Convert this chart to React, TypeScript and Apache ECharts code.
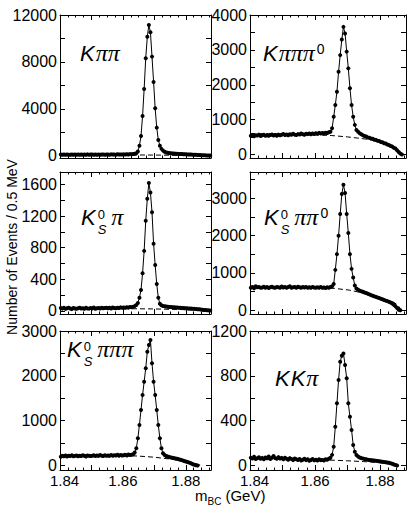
import React, { useEffect, useRef } from 'react';
import * as echarts from 'echarts';

// ---------------- data ----------------
const BIN_START = 1.84025; // GeV, centre of first 0.5 MeV bin
const BIN_WIDTH = 0.0005;

const X_LABELS = [1.84, 1.86, 1.88];
const X_MAJOR_TICKS = [1.84, 1.85, 1.86, 1.87, 1.88];
const X_MINOR_TICKS = [1.84, 1.8425, 1.845, 1.8475, 1.85, 1.8525, 1.855, 1.8575, 1.86, 1.8625, 1.865, 1.8675, 1.87, 1.8725, 1.875, 1.8775, 1.88, 1.8825, 1.885, 1.8875];

const K_PI_PI = [
  90, 80, 100, 70, 95, 85, 75, 105, 80, 90,
  70, 95, 85, 100, 75, 90, 80, 110, 85, 95,
  90, 75, 100, 85, 95, 70, 105, 90, 80, 100,
  95, 85, 110, 90, 100, 80, 115, 95, 105, 90,
  110, 100, 120, 105, 130, 115, 140, 160, 200, 350,
  850, 1680, 3390, 5690, 8310, 10150, 11150, 10530, 8450, 6290,
  4040, 2390, 1340, 850, 580, 430, 330, 270, 240, 215,
  200, 190, 175, 165, 160, 150, 140, 135, 125, 120,
  110, 105, 100, 90, 85, 75, 70, 60, 55, 45,
  40, 30, 25, 15, 10, 5,
];
const K_PI_PI_BG = [[1.84, 80], [1.85, 75], [1.86, 65], [1.87, 50], [1.88, 28], [1.885, 12], [1.888, 0]];

const K_PI_PI_PI0 = [
  540, 560, 525, 555, 545, 570, 530, 550, 565, 540,
  555, 535, 560, 575, 545, 560, 540, 570, 555, 565,
  590, 560, 575, 550, 580, 565, 595, 570, 560, 585,
  575, 600, 580, 565, 595, 585, 605, 580, 600, 590,
  610, 595, 620, 600, 615, 605, 625, 615, 640, 650,
  750, 1080, 1420, 1800, 2370, 2850, 3300, 3660, 3470, 2950,
  2470, 1900, 1420, 1080, 850, 700, 650, 610, 580, 555,
  530, 515, 485, 480, 455, 450, 425, 420, 395, 385,
  360, 350, 325, 315, 285, 270, 245, 230, 195, 170,
  120, 70, 25, 0,
];
const K_PI_PI_PI0_BG = [[1.84, 600], [1.85, 590], [1.86, 565], [1.865, 545], [1.87, 505], [1.874, 462], [1.877, 425], [1.88, 350], [1.882, 300], [1.884, 240], [1.8855, 150], [1.8865, 40], [1.8868, 0]];

const KS_PI = [
  35, 28, 40, 25, 32, 38, 30, 22, 36, 30,
  27, 34, 40, 29, 33, 25, 38, 31, 28, 35,
  30, 42, 27, 33, 36, 29, 40, 32, 35, 38,
  33, 39, 30, 42, 36, 34, 40, 37, 44, 38,
  42, 39, 45, 41, 48, 46, 52, 60, 75, 100,
  167, 264, 476, 760, 1141, 1420, 1620, 1500, 1250, 850,
  580, 340, 165, 90, 70, 62, 58, 55, 52, 50,
  48, 46, 45, 43, 42, 40, 39, 37, 36, 34,
  33, 31, 30, 28, 27, 25, 23, 21, 19, 17,
  15, 12, 10, 8, 6, 4,
];
const KS_PI_BG = [[1.84, 30], [1.86, 28], [1.87, 24], [1.88, 15], [1.8875, 2]];

const KS_PI_PI0 = [
  600, 620, 590, 640, 615, 625, 600, 610, 630, 605,
  620, 595, 615, 630, 610, 600, 625, 615, 605, 635,
  610, 625, 600, 620, 640, 605, 615, 625, 600, 630,
  615, 605, 620, 610, 625, 600, 615, 605, 620, 610,
  600, 615, 605, 620, 600, 610, 595, 615, 605, 620,
  640, 700, 1081, 1502, 1993, 2574, 3110, 3360, 3138, 2574,
  2065, 1502, 1108, 874, 660, 580, 550, 525, 510, 495,
  475, 460, 440, 425, 405, 390, 372, 358, 340, 328,
  308, 292, 272, 258, 245, 225, 205, 180, 150, 110,
  60, 15, 0,
];
const KS_PI_PI0_BG = [[1.84, 640], [1.85, 628], [1.86, 610], [1.866, 585], [1.8705, 540], [1.873, 495], [1.876, 430], [1.879, 330], [1.882, 262], [1.884, 225], [1.8855, 140], [1.8862, 50], [1.8866, 0]];

const KS_PI_PI_PI = [
  195, 215, 205, 225, 200, 220, 210, 230, 205, 215,
  225, 205, 220, 210, 230, 215, 200, 225, 215, 210,
  220, 230, 210, 225, 215, 235, 220, 210, 230, 220,
  225, 215, 235, 220, 230, 225, 240, 220, 235, 225,
  230, 240, 225, 245, 235, 240, 250, 290, 383, 606,
  903, 1238, 1572, 1869, 2167, 2538, 2690, 2800, 2280, 1869,
  1572, 1238, 903, 606, 383, 272, 235, 210, 200, 190,
  180, 172, 165, 158, 150, 140, 130, 120, 108, 95,
  85, 72, 60, 45, 30, 15, 5, 0,
];
const KS_PI_PI_PI_BG = [[1.84, 240], [1.85, 236], [1.86, 225], [1.865, 210], [1.87, 185], [1.873, 160], [1.876, 135], [1.879, 100], [1.882, 60], [1.8845, 10], [1.885, 0]];

const K_K_PI = [
  70, 62, 78, 58, 66, 74, 60, 68, 55, 72,
  64, 80, 58, 70, 85, 66, 60, 75, 62, 68,
  55, 70, 60, 52, 66, 58, 48, 62, 55, 50,
  58, 45, 52, 60, 48, 55, 42, 50, 58, 46,
  52, 44, 55, 48, 50, 45, 56, 52, 60, 70,
  95, 168, 346, 555, 763, 926, 980, 1000, 896, 778,
  555, 435, 317, 183, 123, 94, 80, 72, 66, 62,
  58, 56, 52, 50, 48, 46, 44, 42, 40, 38,
  36, 34, 32, 30, 27, 24, 20, 16, 10, 5,
  0,
];
const K_K_PI_BG = [[1.84, 60], [1.86, 50], [1.866, 47], [1.87, 42], [1.875, 35], [1.88, 25], [1.8845, 8], [1.8855, 0]];

// y-axis ranges / ticks / labels per mode
const Y_K_PI_PI = { min: -200, max: 12000, labels: [0, 4000, 8000, 12000], ticks: [0, 2000, 4000, 6000, 8000, 10000, 12000] };
const Y_K_PI_PI_PI0 = { min: -100, max: 4000, labels: [0, 1000, 2000, 3000, 4000], ticks: [0, 500, 1000, 1500, 2000, 2500, 3000, 3500, 4000] };
const Y_KS_PI = { min: -40, max: 1760, labels: [0, 400, 800, 1200, 1600], ticks: [0, 200, 400, 600, 800, 1000, 1200, 1400, 1600] };
const Y_KS_PI_PI0 = { min: -100, max: 3700, labels: [0, 1000, 2000, 3000], ticks: [0, 500, 1000, 1500, 2000, 2500, 3000, 3500] };
const Y_KS_PI_PI_PI = { min: -100, max: 3000, labels: [0, 1000, 2000, 3000], ticks: [0, 500, 1000, 1500, 2000, 2500, 3000] };
const Y_K_K_PI = { min: -40, max: 1200, labels: [0, 400, 800, 1200], ticks: [0, 200, 400, 600, 800, 1000, 1200] };

// ---------------- layout ----------------
const SANS = '"Liberation Sans", Arial, Helvetica, sans-serif';
const SERIF = '"Liberation Serif", "Times New Roman", serif';

type PartKind = 'K' | 'pi' | 'KS' | 'sup0';
const PANELS = [
  { data: K_PI_PI, bg: K_PI_PI_BG, y: Y_K_PI_PI, grid: { left: 60, top: 15, width: 151, height: 143 }, bottom: false, label: { x: 80, base: 61, parts: ['K', 'pi', 'pi'] as PartKind[] } },
  { data: K_PI_PI_PI0, bg: K_PI_PI_PI0_BG, y: Y_K_PI_PI_PI0, grid: { left: 250, top: 15, width: 156, height: 143 }, bottom: false, label: { x: 263, base: 61, parts: ['K', 'pi', 'pi', 'pi', 'sup0'] as PartKind[] } },
  { data: KS_PI, bg: KS_PI_BG, y: Y_KS_PI, grid: { left: 60, top: 172, width: 151, height: 142 }, bottom: false, label: { x: 81, base: 225, parts: ['KS', 'pi'] as PartKind[] } },
  { data: KS_PI_PI0, bg: KS_PI_PI0_BG, y: Y_KS_PI_PI0, grid: { left: 250, top: 172, width: 156, height: 142 }, bottom: false, label: { x: 264, base: 225, parts: ['KS', 'pi', 'pi', 'sup0'] as PartKind[] } },
  { data: KS_PI_PI_PI, bg: KS_PI_PI_PI_BG, y: Y_KS_PI_PI_PI, grid: { left: 60, top: 331, width: 151, height: 139 }, bottom: true, label: { x: 67, base: 357, parts: ['KS', 'pi', 'pi', 'pi'] as PartKind[] } },
  { data: K_K_PI, bg: K_K_PI_BG, y: Y_K_K_PI, grid: { left: 250, top: 331, width: 156, height: 139 }, bottom: true, label: { x: 275, base: 386, parts: ['K', 'K', 'pi'] as PartKind[] } },
];

let measureCtx: CanvasRenderingContext2D | null = null;
function measure(text: string, font: string): number {
  if (!measureCtx) measureCtx = document.createElement('canvas').getContext('2d');
  if (!measureCtx) return text.length * 10;
  measureCtx.font = font;
  return measureCtx.measureText(text).width;
}

function txt(x: number, base: number, t: string, size: number, family: string, style: string) {
  return {
    type: 'text',
    x,
    y: base - 0.35 * size,
    silent: true,
    style: { text: t, fontSize: size, fontFamily: family, fontStyle: style, fill: '#000', align: 'left', verticalAlign: 'middle' },
  };
}

function buildLabel(x0: number, base: number, parts: PartKind[]) {
  const KS = 22, PS = 24, SS = 13;
  const els: any[] = [];
  let x = x0;
  for (const p of parts) {
    if (p === 'K' || p === 'KS') {
      els.push(txt(x, base, 'K', KS, SANS, 'italic'));
      x += measure('K', `italic ${KS}px ${SANS}`) + (p === 'KS' ? 2 : 1);
      if (p === 'KS') {
        // stacked superscript 0 / subscript S in one two-line text
        els.push({
          type: 'text', x, y: base - 3, silent: true,
          style: {
            text: '{a|0}\n{b|S}', align: 'left', verticalAlign: 'middle', fill: '#000',
            rich: {
              a: { fontSize: SS, fontFamily: SANS, lineHeight: 15, fill: '#000' },
              b: { fontSize: SS, fontFamily: SANS, fontStyle: 'italic', lineHeight: 15, fill: '#000' },
            },
          },
        });
        x += Math.max(measure('0', `${SS}px ${SANS}`), measure('S', `italic ${SS}px ${SANS}`)) + 5;
      }
    } else if (p === 'pi') {
      els.push(txt(x, base, 'π', PS, SERIF, 'italic'));
      x += measure('π', `italic ${PS}px ${SERIF}`);
    } else if (p === 'sup0') {
      els.push(txt(x + 2, base - 7, '0', 14, SANS, 'normal'));
      x += measure('0', `14px ${SANS}`) + 2;
    }
  }
  return els;
}

const BLACK = '#000';

export default function App() {
  const ref = useRef<HTMLDivElement>(null);
  useEffect(() => {
    if (!ref.current) return;
    const chart = echarts.init(ref.current, undefined, { renderer: 'svg' });

    const grids: any[] = [];
    const xAxes: any[] = [];
    const yAxes: any[] = [];
    const series: any[] = [];
    let graphics: any[] = [];

    PANELS.forEach((p, gi) => {
      grids.push({ ...p.grid, containLabel: false, outerBoundsMode: 'none' });
      const xBase = { type: 'value', gridIndex: gi, min: 1.84, max: 1.888, splitLine: { show: false } };
      xAxes.push({
        ...xBase, position: 'bottom',
        axisLine: { show: true, onZero: false, lineStyle: { color: BLACK, width: 1 } },
        axisTick: { show: true, inside: true, length: 5, customValues: X_MAJOR_TICKS, lineStyle: { color: BLACK, width: 1 } },
        axisLabel: {
          show: p.bottom, customValues: X_LABELS,
          formatter: (v: number) => (v < 1.845 ? '{s|' + v.toFixed(2) + '}' : v.toFixed(2)),
          rich: { s: { fontSize: 15, fontFamily: SANS, color: BLACK, padding: [0, 0, 0, 9] } },
          color: BLACK, fontSize: 15, fontFamily: SANS, margin: 3,
        },
      });
      xAxes.push({
        ...xBase, position: 'bottom',
        axisLine: { show: false, onZero: false },
        axisTick: { show: true, inside: true, length: 2.5, customValues: X_MINOR_TICKS, lineStyle: { color: BLACK, width: 1 } },
        axisLabel: { show: false },
      });
      xAxes.push({
        ...xBase, position: 'top',
        axisLine: { show: true, onZero: false, lineStyle: { color: BLACK, width: 1 } },
        axisTick: { show: true, inside: true, length: 5, customValues: X_MAJOR_TICKS, lineStyle: { color: BLACK, width: 1 } },
        axisLabel: { show: false },
      });
      xAxes.push({
        ...xBase, position: 'top',
        axisLine: { show: false, onZero: false },
        axisTick: { show: true, inside: true, length: 2.5, customValues: X_MINOR_TICKS, lineStyle: { color: BLACK, width: 1 } },
        axisLabel: { show: false },
      });
      const yBase = { type: 'value', gridIndex: gi, min: p.y.min, max: p.y.max, splitLine: { show: false } };
      yAxes.push({
        ...yBase, position: 'left',
        axisLine: { show: true, onZero: false, lineStyle: { color: BLACK, width: 1 } },
        axisTick: { show: true, inside: true, length: 5, customValues: p.y.ticks, lineStyle: { color: BLACK, width: 1 } },
        axisLabel: { show: true, customValues: p.y.labels, formatter: (v: number) => String(Math.round(v)), color: BLACK, fontSize: 16, fontFamily: SANS, margin: 3 },
      });
      yAxes.push({
        ...yBase, position: 'right',
        axisLine: { show: true, onZero: false, lineStyle: { color: BLACK, width: 1 } },
        axisTick: { show: true, inside: true, length: 5, customValues: p.y.ticks, lineStyle: { color: BLACK, width: 1 } },
        axisLabel: { show: false },
      });

      series.push({
        type: 'line', xAxisIndex: gi * 4, yAxisIndex: gi * 2, data: p.bg,
        symbol: 'none', lineStyle: { color: BLACK, width: 1, type: [5, 3] }, z: 2, silent: true,
      });
      series.push({
        type: 'line', xAxisIndex: gi * 4, yAxisIndex: gi * 2,
        data: p.data.map((v, i) => [BIN_START + BIN_WIDTH * i, v]),
        symbol: 'circle', symbolSize: 4, showSymbol: true, showAllSymbol: true,
        itemStyle: { color: BLACK }, lineStyle: { color: BLACK, width: 1 }, z: 3, silent: true,
      });

      graphics = graphics.concat(buildLabel(p.label.x, p.label.base, p.label.parts));
    });

    // axis titles
    graphics.push({
      type: 'text', x: 12, y: 247, rotation: Math.PI / 2, silent: true,
      style: { text: 'Number of Events / 0.5 MeV', fontSize: 14, fontFamily: SANS, fill: BLACK, align: 'center', verticalAlign: 'middle' },
    });
    const mX = 195;
    graphics.push(txt(mX, 501, 'm', 15, SANS, 'normal'));
    const mW = measure('m', `15px ${SANS}`);
    graphics.push(txt(mX + mW, 505, 'BC', 10, SANS, 'normal'));
    const bcW = measure('BC', `10px ${SANS}`);
    graphics.push(txt(mX + mW + bcW + 4, 501, '(GeV)', 15, SANS, 'normal'));

    chart.setOption({
      animation: false,
      backgroundColor: '#fff',
      grid: grids,
      xAxis: xAxes,
      yAxis: yAxes,
      series,
      graphic: graphics,
    });
    return () => chart.dispose();
  }, []);
  return <div ref={ref} style={{ position: 'fixed', left: 0, top: 0, width: 408, height: 508 }} />;
}
